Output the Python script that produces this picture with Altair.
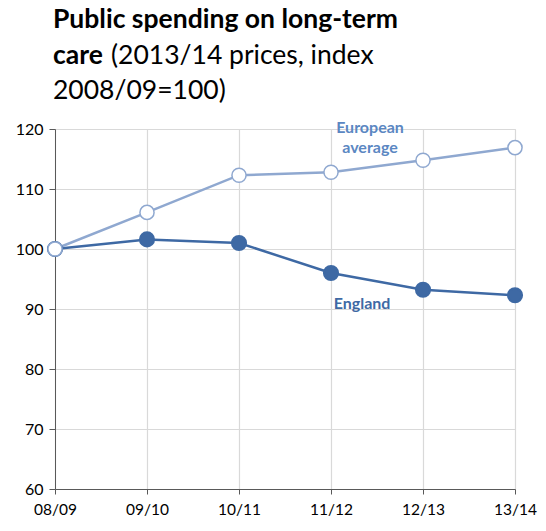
import altair as alt
import pandas as pd

# Fiscal years and spending index (2008/09 = 100)
years = ["08/09", "09/10", "10/11", "11/12", "12/13", "13/14"]
european = [100.0, 106.1, 112.3, 112.8, 114.8, 116.9]
england = [100.0, 101.6, 101.0, 96.0, 93.2, 92.3]

FONT = "Lato"
EU_COLOR = "#8FA8D0"
EN_COLOR = "#3E69A4"
EU_TEXT = "#5B87C2"

df = pd.DataFrame({
    "year": years * 2,
    "value": european + england,
    "series": ["European average"] * len(years) + ["England"] * len(years),
})

x_enc = alt.X(
    "year:O", sort=years, title=None,
    scale=alt.Scale(type="point", padding=0),
    axis=alt.Axis(labelAngle=0, labelFontSize=15.5, labelColor="#000000", labelFont=FONT,
                  labelPadding=8, tickSize=5, tickColor="#595959", domainColor="#595959",
                  grid=True, gridColor="#D9D9D9", gridWidth=1.2),
)
y_enc = alt.Y(
    "value:Q", title=None,
    scale=alt.Scale(domain=[60, 120], nice=False, zero=False),
    axis=alt.Axis(values=[60, 70, 80, 90, 100, 110, 120], labelFontSize=16, labelColor="#000000",
                  labelFont=FONT, labelPadding=6, tickSize=6, tickColor="#595959",
                  domainColor="#595959", gridColor="#D9D9D9", gridWidth=1.2),
)

eu = df[df.series == "European average"]
en = df[df.series == "England"]

eu_line = alt.Chart(eu).mark_line(color=EU_COLOR, strokeWidth=2.5).encode(x=x_enc, y=y_enc)
eu_pts = alt.Chart(eu).mark_point(shape="circle", filled=True, fill="white", stroke=EU_COLOR,
                                  strokeWidth=1.5, size=200, opacity=1).encode(x=x_enc, y=y_enc)
en_line = alt.Chart(en).mark_line(color=EN_COLOR, strokeWidth=2.5).encode(x=x_enc, y=y_enc)
en_pts = alt.Chart(en).mark_point(shape="circle", filled=True, fill=EN_COLOR, stroke=EN_COLOR,
                                  size=200, opacity=1).encode(x=x_enc, y=y_enc)


def label(txt, x, y, color, size=16, weight="bold", align="center", baseline="middle"):
    return alt.Chart(pd.DataFrame({"t": [txt]})).mark_text(
        font=FONT, fontSize=size, fontWeight=weight, color=color, align=align, baseline=baseline
    ).encode(text="t:N", x=alt.value(x), y=alt.value(y))


# Series labels
labels = alt.layer(
    label("European", 315, -1, EU_TEXT),
    label("average", 315, 19, EU_TEXT),
    label("England", 307, 175, EN_COLOR),
)

# Title lines (bold and regular parts)
titles = alt.layer(
    label("Public spending on long-term", -2, -101, "#000000", 26.5, "bold", "left", "alphabetic"),
    label("care", -2, -65, "#000000", 26.5, "bold", "left", "alphabetic"),
    label("(2013/14 prices, index", 56, -65, "#000000", 26.5, "normal", "left", "alphabetic"),
    label("2008/09=100)", -2, -30, "#000000", 26.5, "normal", "left", "alphabetic"),
)

chart = alt.layer(en_line, eu_line, en_pts, eu_pts, labels, titles).properties(
    width=460, height=360,
    autosize=alt.AutoSizeParams(type="none"),
    padding={"left": 55, "top": 129, "right": 31, "bottom": 42},
).configure_view(stroke=None).configure(background="white")

chart.save("out.html", embed_options={"renderer": "svg", "actions": False})
